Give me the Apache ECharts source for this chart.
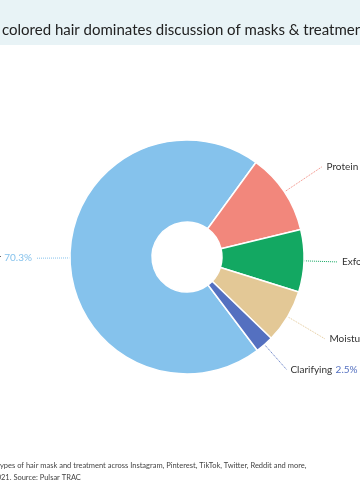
<!DOCTYPE html>
<html>
<head>
<meta charset="utf-8">
<style>
html,body{margin:0;padding:0;background:#fff;overflow:hidden;}
#chart{width:360px;height:500px;}
</style>
<script src="https://cdn.jsdelivr.net/npm/echarts@6/dist/echarts.min.js"></script>
</head>
<body>
<div id="chart"></div>
<script>
const categories = ['Colored hair', 'Protein', 'Exfoliating', 'Moisturizing', 'Clarifying'];
const shares = [70.3, 11.2, 8.6, 7.4, 2.5];
const colors = ['#85c2ec', '#f2877c', '#13a862', '#e3c896', '#5470c0'];

const titleText = 'Why colored hair dominates discussion of masks & treatments';
const titlePrefix = 'Why ';
const noteLine1 = 'Share of conversation about different types of hair mask and treatment across Instagram, Pinterest, TikTok, Twitter, Reddit and more,';
const notePrefix1 = 'Share of conversation about different t';
const noteLine2 = 'January 2020 to June 2021. Source: Pulsar TRAC';
const notePrefix2 = 'January 2020 to June 20';

// label line lengths per slice (layout only)
const lineLengths = [34, 46, 34, 44, 33];

const FONT = 'Lato, "Open Sans", sans-serif';
const ctx = document.createElement('canvas').getContext('2d');
function w(text, size) { ctx.font = size + 'px ' + FONT; return ctx.measureText(text).width; }

const chart = echarts.init(document.getElementById('chart'));
const data = categories.map((c, i) => ({
  name: c, value: shares[i],
  itemStyle: { color: colors[i] },
  labelLine: { length: lineLengths[i], length2: 0 }
}));
const rich = {};
colors.forEach((c, i) => { rich['v' + i] = { color: c, fontSize: 10, fontFamily: FONT }; });
rich.n = { color: '#333', fontSize: 10, fontFamily: FONT };

const tStyle = (s, c) => ({ fontSize: s, fontWeight: 'normal', color: c, fontFamily: FONT });

chart.setOption({
  backgroundColor: '#fff',
  graphic: [{ type: 'rect', left: 0, top: 0, shape: { width: 360, height: 45 }, style: { fill: '#e8f3f6' }, silent: true, z: -1 }],
  title: [
    { text: titleText, padding: 0, left: 2 - w(titlePrefix, 15), top: 23, textStyle: tStyle(15, '#222') },
    { text: noteLine1, padding: 0, left: 0 - w(notePrefix1, 7.5), top: 462, textStyle: tStyle(7.5, '#444') },
    { text: noteLine2, padding: 0, left: 1 - w(notePrefix2, 7.5), top: 474, textStyle: tStyle(7.5, '#444') }
  ],
  series: [{
    type: 'pie',
    center: [187, 257],
    radius: [35, 117],
    startAngle: 307,
    clockwise: true,
    avoidLabelOverlap: false,
    itemStyle: { borderColor: '#fff', borderWidth: 1.5 },
    label: {
      show: true,
      formatter: p => '{n|' + p.name + '} {v' + p.dataIndex + '|' + p.value.toFixed(1) + '%}',
      rich: rich,
      distanceToLabelLine: 4
    },
    labelLine: { show: true, lineStyle: { type: 'dotted', width: 1 } },
    emphasis: { disabled: true },
    data: data
  }]
});
</script>
</body>
</html>
